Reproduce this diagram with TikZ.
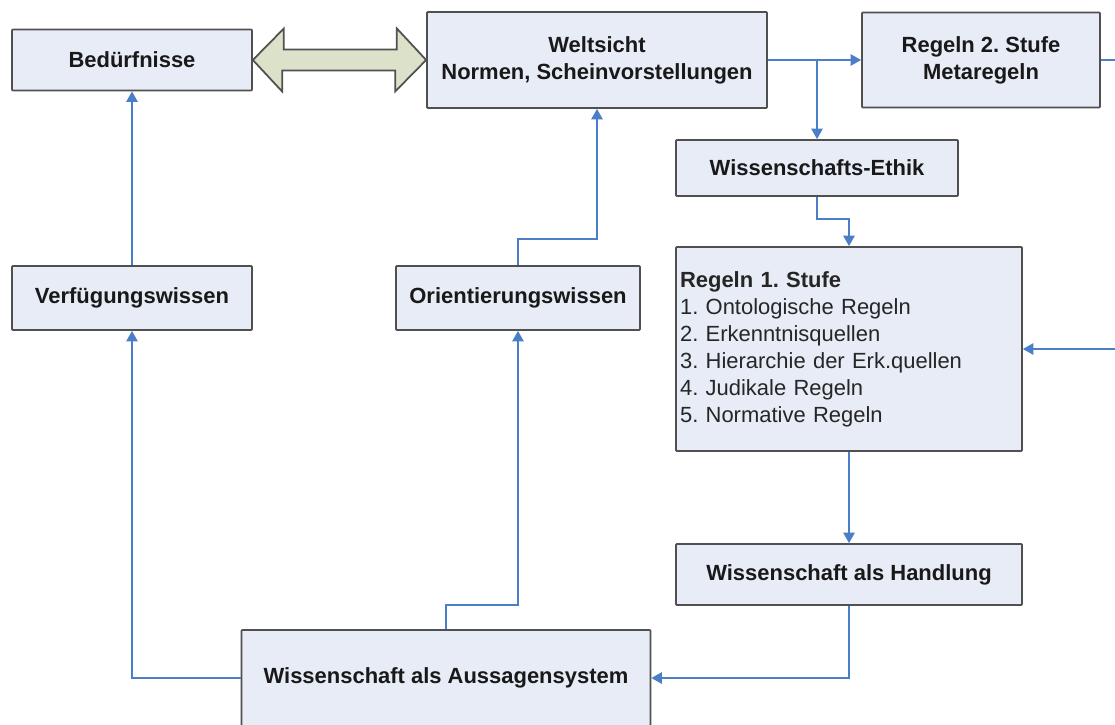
\documentclass[tikz,border=0pt]{standalone}
\usepackage{fontspec}
\setmainfont{Liberation Sans}
\usepackage{tikz}
\usetikzlibrary{arrows.meta,positioning,calc}
\definecolor{boxfill}{HTML}{E7ECF6}
\definecolor{boxline}{HTML}{505050}
\definecolor{conblue}{HTML}{4A7EC7}
\definecolor{linkfill}{HTML}{DCE1C9}
\frenchspacing
\newcommand{\boxfont}{\fontsize{12.5}{15.4}\selectfont}
\tikzset{
  >={Triangle[length=6pt,width=6.5pt]},
  box/.style    ={rectangle, draw=boxline, fill=boxfill, line width=1pt,
                  rounded corners=0.5pt, inner sep=2pt,
                  font=\boxfont\bfseries, align=center, text=black!90},
  liste/.style  ={box, font=\boxfont, align=left, text width=6.76cm,
                  inner xsep=0.08cm, text=black!85},
  con/.style    ={->, draw=conblue, line width=0.9pt},
  biarrow/.style={draw=boxline, fill=linkfill, line width=1pt, line join=miter},
}

\begin{document}
\begin{tikzpicture}[x=0.02cm, y=-0.02cm]
\useasboundingbox (0,0) rectangle (1115,724);
\clip (0,0) rectangle (1115,724);
% top row
\node[box, minimum width=4.8cm, minimum height=1.22cm] (bed) at (132,60) {Bedürfnisse};
\node[box, minimum width=6.8cm, minimum height=1.92cm] (welt) at (597,60) {Weltsicht\\Normen, Scheinvorstellungen};
\node[box, minimum width=4.76cm, minimum height=1.9cm] (meta) at (981,60) {Regeln 2. Stufe\\Metaregeln};
% right column
\node[box, minimum width=5.64cm, minimum height=1.12cm] (ethik) at (817,168) {Wissenschafts-Ethik};
\node[liste, minimum width=6.92cm, minimum height=4.08cm] (regeln) at (849,349)
  {{\bfseries Regeln 1. Stufe}\\1. Ontologische Regeln\\2. Erkenntnisquellen\\3. Hierarchie der Erk.quellen\\4. Judikale Regeln\\5. Normative Regeln};
\node[box, minimum width=6.92cm, minimum height=1.22cm] (hand) at (849,574.5) {Wissenschaft als Handlung};
% left and middle
\node[box, minimum width=4.8cm, minimum height=1.28cm] (vfw) at (132,298) {Verfügungswissen};
\node[box, minimum width=4.88cm, minimum height=1.28cm] (orw) at (518,298) {Orientierungswissen};
\node[box, minimum width=8.18cm, minimum height=1.92cm] (aus) at (446,678) {Wissenschaft als Aussagensystem};
% double arrow between Beduerfnisse and Weltsicht
\draw[biarrow] (bed.east) -- ++(31,-31.5) -- ++(0,21) -- ++(113,0) -- ++(0,-21)
  -- (welt.west) -- ++(-31,31.5) -- ++(0,-21) -- ++(-113,0) -- ++(0,21) -- cycle;
% connectors
\coordinate (split) at (ethik.north |- welt.east);
\draw[con] (welt.east) -- (welt.east -| meta.west);
\draw[con] (split) -- (ethik.north);
\draw[con] (ethik.south) -- ++(0,22) -| (regeln.north);
\draw[con] (meta.east) -- ++(30,0) |- (regeln.east);
\draw[con] (regeln.south) -- (hand.north);
\draw[con] (hand.south) |- (aus.east);
\draw[con] (aus.west) -| (vfw.south);
\draw[con] (aus.north) -- ++(0,-24) -| (orw.south);
\draw[con] (vfw.north) -- (bed.south);
\draw[con] (orw.north) -- ++(0,-26) -| (welt.south);
\end{tikzpicture}
\end{document}
